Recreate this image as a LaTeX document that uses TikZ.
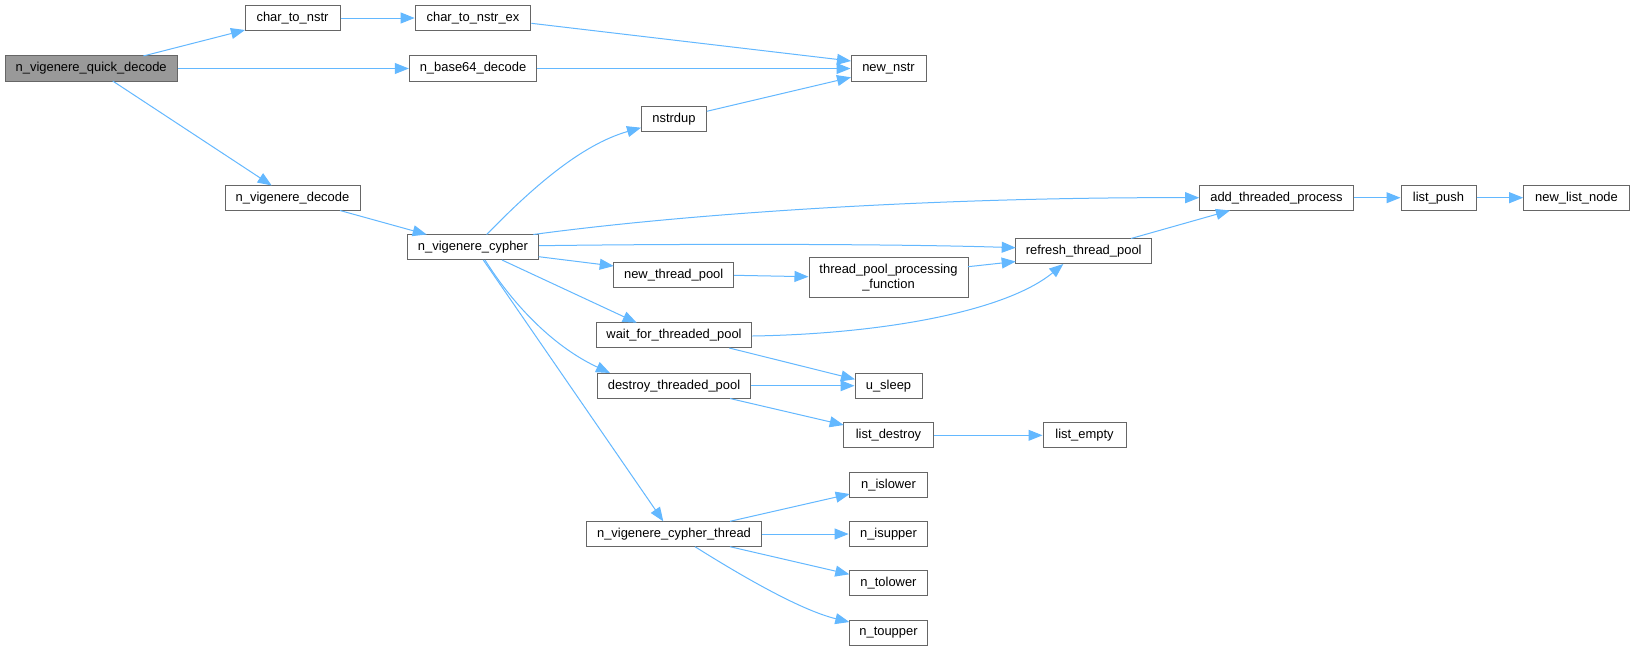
\documentclass[tikz,border=0pt]{standalone}
\usepackage{fontspec}
\setmainfont{Liberation Sans}
\usetikzlibrary{arrows.meta,calc}
\definecolor{edgeblue}{HTML}{63B8FF}
\definecolor{nodegray}{HTML}{666666}
\definecolor{rootfill}{HTML}{999999}
\begin{document}
\begin{tikzpicture}[x=0.75pt,y=-0.75pt,
  box/.style={draw=nodegray, fill=white, line width=0.75pt, inner sep=0pt,
    minimum height=19pt, font=\fontsize{9.7}{11.25}\selectfont, align=center, text=black},
  root/.style={box, fill=rootfill},
  wd/.style={minimum width=#1*0.75pt},
  link/.style={draw=edgeblue, line width=0.75pt, -{Triangle[length=10.5pt,width=8.2pt]}}]
\fill[white] (0,0) rectangle (1635,651);
\useasboundingbox (0,0) rectangle (1635,651);

% nodes
\node[root, wd=172.3] (quick) at (91.2,68.5) {n\_vigenere\_quick\_decode};
\node[box, wd=95] (c2n) at (292.5,18) {char\_to\_nstr};
\node[box, wd=115.7] (c2nex) at (473,18) {char\_to\_nstr\_ex};
\node[box, wd=127.3] (b64) at (473,68.5) {n\_base64\_decode};
\node[box, wd=135] (vdec) at (292.5,198) {n\_vigenere\_decode};
\node[box, wd=131.4] (vcy) at (473,247) {n\_vigenere\_cypher};
\node[box, wd=75] (newnstr) at (888.5,68.5) {new\_nstr};
\node[box, wd=65.7] (nstrdup) at (674,119.3) {nstrdup};
\node[box, wd=120] (ntp) at (673.7,275.3) {new\_thread\_pool};
\node[box, wd=159, minimum height=30pt] (tppf) at (888.5,277.7) {thread\_pool\_processing\\\_function};
\node[box, wd=136] (refresh) at (1083.7,251.2) {refresh\_thread\_pool};
\node[box, wd=153.6] (addtp) at (1276.5,197.7) {add\_threaded\_process};
\node[box, wd=75] (lpush) at (1438.5,197.7) {list\_push};
\node[box, wd=105.6] (nln) at (1576.5,197.7) {new\_list\_node};
\node[box, wd=155.7] (wait) at (674,335.3) {wait\_for\_threaded\_pool};
\node[box, wd=153] (destroy) at (674,385.7) {destroy\_threaded\_pool};
\node[box, wd=67] (usleep) at (888.5,385.7) {u\_sleep};
\node[box, wd=89.6] (ldestroy) at (888.5,435.3) {list\_destroy};
\node[box, wd=83] (lempty) at (1084.5,435.3) {list\_empty};
\node[box, wd=77.6] (islower) at (888.5,484.7) {n\_islower};
\node[box, wd=174.3] (vct) at (674,534) {n\_vigenere\_cypher\_thread};
\node[box, wd=78.7] (isupper) at (888.5,534) {n\_isupper};
\node[box, wd=78.7] (tolower) at (888.5,583.3) {n\_tolower};
\node[box, wd=78.7] (toupper) at (888.5,632.7) {n\_toupper};

% edges
\draw[link] ($(quick)+(52.1,-12.5)$) -- ($(c2n)+(-47.5,12)$);
\draw[link] (quick.east) -- (b64.west);
\draw[link] ($(quick)+(21.5,12.5)$) -- ($(vdec)+(-20.8,-12.5)$);
\draw[link] (c2n.east) -- (c2nex.west);
\draw[link] ($(c2nex.east)+(0,5.3)$) -- ($(newnstr)+(-37.5,-7.5)$);
\draw[link] (b64.east) -- (newnstr.west);
\draw[link] ($(nstrdup)+(32.8,-8)$) -- ($(newnstr)+(-37.5,8.8)$);
\draw[link] ($(vdec)+(47.5,12.5)$) -- ($(vcy)+(-46.3,-12.5)$);
\draw[link] ($(vcy)+(13.7,-12.5)$) .. controls (530,190) and (580,145) .. ($(nstrdup)+(-33,8.4)$);
\draw[link] ($(vcy)+(60.3,-12.5)$) .. controls (700,212) and (950,197) .. (addtp.west);
\draw[link] ($(vcy.east)+(0,-1.3)$) .. controls (700,243.5) and (900,244) .. ($(refresh)+(-68,-3.5)$);
\draw[link] ($(vcy)+(65.7,9.7)$) -- ($(ntp)+(-60,-9.3)$);
\draw[link] ($(vcy)+(29,13)$) -- ($(wait)+(-37.3,-12.6)$);
\draw[link] ($(vcy)+(12,13)$) .. controls (510,300) and (550,345) .. ($(destroy)+(-64,-12.7)$);
\draw[link] ($(vcy)+(10.3,13)$) -- ($(vct)+(-10.7,-12.7)$);
\draw[link] (ntp.east) -- ($(tppf.west)+(0,-1)$);
\draw[link] ($(tppf)+(79.5,-11)$) -- ($(refresh)+(-68,10.3)$);
\draw[link] ($(wait.east)+(0,0.7)$) .. controls (880,334) and (1005,312) .. ($(refresh)+(-20.4,12.8)$);
\draw[link] ($(refresh)+(47.3,-12.7)$) -- ($(addtp)+(-46.5,12.8)$);
\draw[link] (addtp.east) -- (lpush.west);
\draw[link] (lpush.east) -- (nln.west);
\draw[link] ($(wait)+(55.3,12.7)$) -- ($(usleep)+(-33.5,-6.4)$);
\draw[link] (destroy.east) -- (usleep.west);
\draw[link] ($(destroy)+(56,12.8)$) -- ($(ldestroy)+(-44.8,-10.3)$);
\draw[link] (ldestroy.east) -- (lempty.west);
\draw[link] ($(vct)+(56,-12.7)$) -- ($(islower)+(-38.8,9.3)$);
\draw[link] (vct.east) -- (isupper.west);
\draw[link] ($(vct)+(56,12.7)$) -- ($(tolower)+(-39.2,-9)$);
\draw[link] ($(vct)+(21,12.7)$) .. controls (740,575) and (800,610) .. ($(toupper)+(-39.2,-10.7)$);
\end{tikzpicture}
\end{document}
